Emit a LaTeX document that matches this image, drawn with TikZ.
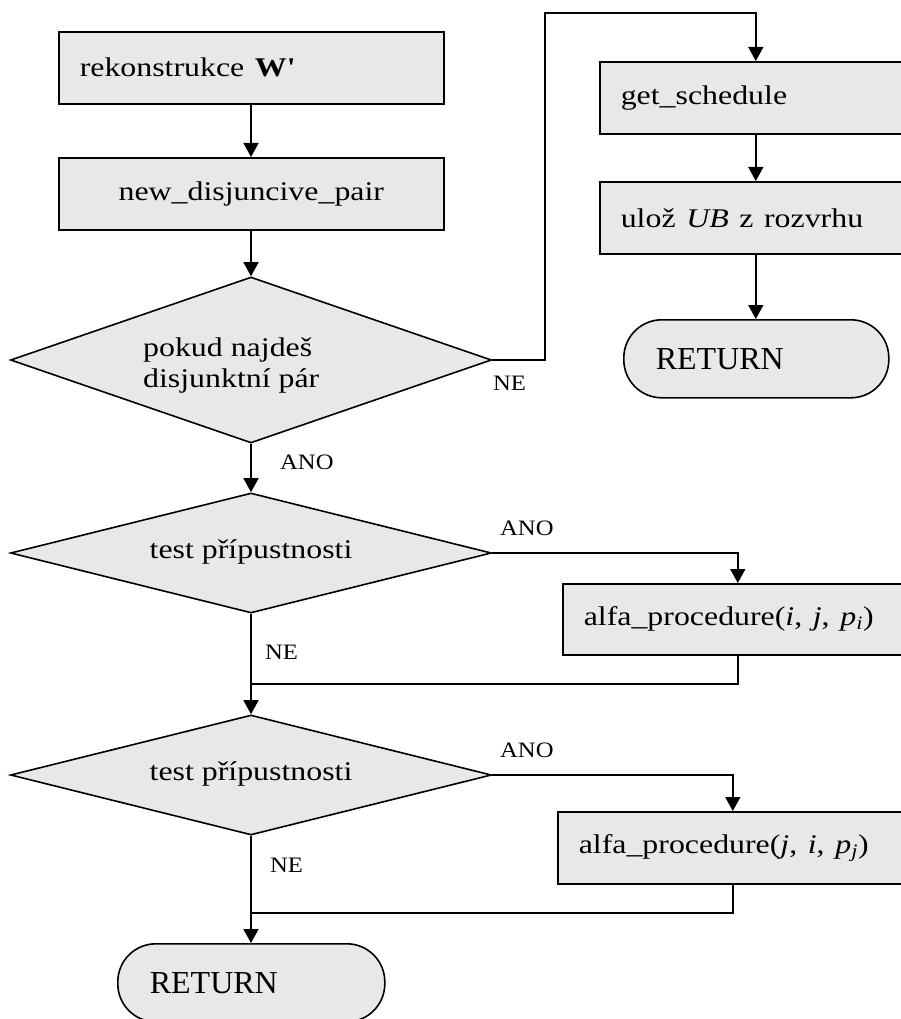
\documentclass[tikz,border=0pt]{standalone}
\usepackage{fontspec}
\usepackage{graphicx}
\setmainfont{Liberation Serif}
\usetikzlibrary{arrows.meta,shapes.geometric}

\definecolor{boxgrey}{HTML}{E8E8E8}

% widened text used inside the blocks and on the branch labels
\newcommand{\bxt}[1]{\scalebox{1.18}[1]{#1}}
\newcommand{\lbt}[1]{\scalebox{1.12}[1]{#1}}

\tikzset{
  flow/.style={line width=1.6pt},
  arr/.style={flow, -{Triangle[length=14pt,width=15pt]}},
  procbox/.style={draw, flow, fill=boxgrey, rectangle, inner ysep=0pt,
    inner xsep=21pt, minimum height=72pt, anchor=north west,
    font=\fontsize{27}{29}\selectfont, align=left},
  termbox/.style={draw, flow, fill=boxgrey, rectangle, rounded corners=38pt,
    inner ysep=0pt, inner xsep=32pt, minimum height=78pt, anchor=north west,
    font=\fontsize{32}{34}\selectfont, align=left},
  decision/.style={draw, flow, fill=boxgrey, diamond, aspect=6, inner sep=0pt,
    minimum width=481pt},
  intext/.style={inner sep=0pt, font=\fontsize{27}{31}\selectfont, align=left},
  branch/.style={inner sep=0pt, anchor=west, font=\fontsize{22}{24}\selectfont},
}

\begin{document}
\begin{tikzpicture}[x=1pt,y=-1pt]
\useasboundingbox (0,0) rectangle (901,1019);

% left column: preparation blocks
\node[procbox, text width=343pt] (rek) at (58,31)
  {\bxt{rekonstrukce \textbf{W\textquotesingle}}};
\node[procbox, text width=343pt, align=center] (ndp) at (58,157)
  {\bxt{new\_disjuncive\_pair}};

% search for a disjunctive pair
\node[decision, minimum height=166pt] (d1) at (251,360) {};
\node[intext, anchor=west] (d1t) at (143,365)
  {\bxt{pokud najdeš}\\\bxt{disjunktní pár}};

% right column: no pair left
\node[procbox, text width=270pt] (gs) at (599,61) {\bxt{get\_schedule}};
\node[procbox, text width=270pt] (uloz) at (599,181)
  {\bxt{ulož \textit{UB} z rozvrhu}};
\node[termbox, text width=201pt] (ret1) at (623,319) {RETURN};

% feasibility tests
\node[decision, minimum height=120pt] (d2) at (251,553) {};
\node[intext] (d2t) at (251,552) {\bxt{test přípustnosti}};
\node[procbox, text width=308pt, minimum height=71pt] (alfa1) at (562,583)
  {\bxt{alfa\_procedure(\textit{i}, \textit{j}, \textit{p}\textsubscript{\textit{i}})}};

\node[decision, minimum height=120pt] (d3) at (251,775) {};
\node[intext] (d3t) at (251,774) {\bxt{test přípustnosti}};
\node[procbox, text width=308pt] (alfa2) at (557,811)
  {\bxt{alfa\_procedure(\textit{j}, \textit{i}, \textit{p}\textsubscript{\textit{j}})}};

\node[termbox, text width=203pt] (ret2) at (117,943) {RETURN};

% branch labels
\node[branch] (l1) at (280,462) {\lbt{ANO}};
\node[branch] (l2) at (493,383) {\lbt{NE}};
\node[branch] (l3) at (500,528) {\lbt{ANO}};
\node[branch] (l4) at (265,652) {\lbt{NE}};
\node[branch] (l5) at (500,750) {\lbt{ANO}};
\node[branch] (l6) at (270,865) {\lbt{NE}};

% helper points for the routed lines
\coordinate (up) at (545,13);
\coordinate (m1) at (251,684);
\coordinate (m2) at (251,913);

% connectors
\draw[arr] (rek.south -| 251,0) -- (ndp.north -| 251,0);
\draw[arr] (ndp.south -| 251,0) -- (d1.north);
\draw[arr] (d1.south) -- (d2.north);
\draw[arr] (d1.east) -| (up) -| (gs.north);
\draw[arr] (gs.south) -- (uloz.north);
\draw[arr] (uloz.south) -- (ret1.north -| uloz.south);
\draw[arr] (d2.east) -| (alfa1.north);
\draw[flow] (alfa1.south) |- (m1);
\draw[arr] (d2.south) -- (d3.north);
\draw[arr] (d3.east) -| (alfa2.north);
\draw[flow] (alfa2.south) |- (m2);
\draw[arr] (d3.south) -- (ret2.north -| d3.south);
\end{tikzpicture}
\end{document}
